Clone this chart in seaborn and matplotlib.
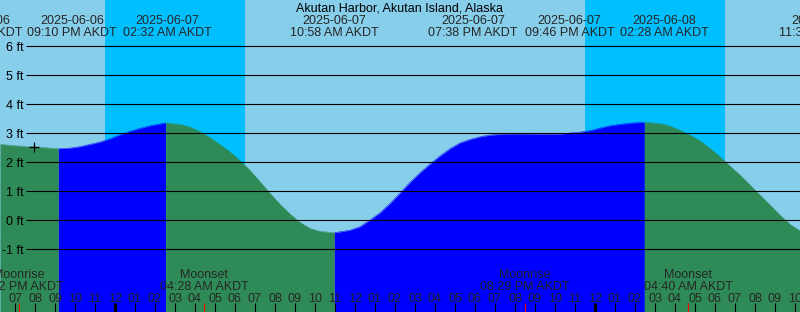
import numpy as np
import pandas as pd
import matplotlib
matplotlib.use("Agg")
import matplotlib.pyplot as plt
import matplotlib.transforms as mtransforms
import seaborn as sns

# ---------------- data ----------------
title = "Akutan Harbor, Akutan Island, Alaska"

# tide curve: hours relative to 2025-06-07 00:00 AKDT, height in ft
tide_hours = [-5.75, -4.75, -3.75, -2.833, -2.25, -1.75, -1.25, -0.75, -0.25, 0.25,
              0.75, 1.25, 1.75, 2.533, 3.25, 3.75, 4.25, 4.75, 5.25, 5.75,
              6.25, 6.75, 7.25, 7.75, 8.25, 8.75, 9.25, 9.75, 10.25, 10.967,
              11.75, 12.25, 12.75, 13.25, 13.75, 14.25, 14.75, 15.25, 15.75, 16.25,
              16.75, 17.25, 17.75, 18.25, 18.75, 19.633, 20.25, 21.25, 21.767, 22.25,
              22.75, 23.25, 23.75, 24.25, 24.75, 25.25, 25.75, 26.467, 27.25, 27.75,
              28.25, 28.75, 29.25, 29.75, 30.25, 30.75, 31.25, 31.75, 32.25, 32.75,
              33.25, 33.75, 34.25]
tide_ft = [2.62, 2.56, 2.52, 2.47, 2.49, 2.54, 2.62, 2.70, 2.81, 2.95,
           3.07, 3.17, 3.26, 3.36, 3.31, 3.22, 3.06, 2.85, 2.61, 2.36,
           2.06, 1.72, 1.33, 0.93, 0.55, 0.22, -0.07, -0.28, -0.38, -0.43,
           -0.34, -0.22, 0.01, 0.26, 0.58, 0.94, 1.31, 1.64, 1.94, 2.22,
           2.47, 2.67, 2.79, 2.88, 2.94, 2.98, 2.98, 2.975, 2.97, 2.98,
           3.01, 3.04, 3.09, 3.18, 3.26, 3.31, 3.35, 3.38, 3.34, 3.25,
           3.11, 2.94, 2.74, 2.48, 2.19, 1.87, 1.56, 1.22, 0.87, 0.53,
           0.18, -0.14, -0.36]

# flood / ebb phases (turning times, hours)
phase_breaks = [-2.833, 2.533, 10.967, 26.467]
phase_kinds = ["ebb", "flood", "ebb", "flood", "ebb"]

# night (sunset -> sunrise), hours
sunset_hours = [-0.5, 23.5]
sunrise_hours = [6.5, 30.5]

# tide event labels along the top
event_dates = ["2025-06-06", "2025-06-06", "2025-06-07", "2025-06-07",
               "2025-06-07", "2025-06-07", "2025-06-08", "2025-06-08"]
event_times = ["03:51 PM AKDT", "09:10 PM AKDT", "02:32 AM AKDT", "10:58 AM AKDT",
               "07:38 PM AKDT", "09:46 PM AKDT", "02:28 AM AKDT", "11:34 AM AKDT"]

# moon events
moon_hours = [-4.8, 4.467, 20.483, 28.667]
moon_kinds = ["Moonrise", "Moonset", "Moonrise", "Moonset"]
moon_times = ["07:12 PM AKDT", "04:28 AM AKDT", "08:29 PM AKDT", "04:40 AM AKDT"]

plus_mark = (-4.035, 2.52)
ft_ticks = [-1, 0, 1, 2, 3, 4, 5, 6]

# ---------------- layout ----------------
label_x = [-6.85, -2.15, 2.6, 10.95, 17.9, 22.725, 27.45, 35.4]  # de-overlapped label centres
W, H = 800, 312
XMIN, XMAX = -5.75, 34.25
YMIN, YMAX = -3.162, 7.597
FONT = ["Liberation Sans", "DejaVu Sans"]
FS = 9

sns.set_theme(style="white")
plt.rcParams["font.family"] = FONT

fig = plt.figure(figsize=(W / 100, H / 100), dpi=100)
ax = fig.add_axes([0, 0, 1, 1])
ax.set_xlim(XMIN, XMAX)
ax.set_ylim(YMIN, YMAX)
ax.set_axis_off()

day_c, night_c = "#87CEEB", "#00BFFF"
flood_c, ebb_c = "#0000FF", "#2E8B57"
ax.axvspan(XMIN, XMAX, color=day_c, lw=0, zorder=0)
for s, r in zip(sunset_hours, sunrise_hours):
    ax.axvspan(s, r, color=night_c, lw=0, zorder=0.5)

t = np.array(tide_hours)
h = np.array(tide_ft)
edges = [XMIN - 1] + phase_breaks + [XMAX + 1]
rows = []
for i, kind in enumerate(phase_kinds):
    m = (t >= edges[i] - 1e-9) & (t <= edges[i + 1] + 1e-9)
    col = flood_c if kind == "flood" else ebb_c
    ax.fill_between(t[m], YMIN, h[m], color=col, lw=0, zorder=1)
    for tt, hh in zip(t[m], h[m]):
        rows.append({"hour": tt, "ft": hh, "seg": f"{kind}{i}"})
df = pd.DataFrame(rows)
pal = {f"{k}{i}": (flood_c if k == "flood" else ebb_c) for i, k in enumerate(phase_kinds)}
sns.lineplot(data=df, x="hour", y="ft", hue="seg", palette=pal, lw=0.35,
             legend=False, ax=ax, zorder=1.5, sort=False, estimator=None)

# grid lines
px_to_x = lambda px: XMIN + px / W * (XMAX - XMIN)
ax.hlines(ft_ticks, px_to_x(26), XMAX, colors="black", lw=0.8, zorder=2)
blend_ya = mtransforms.blended_transform_factory(ax.transAxes, ax.transData)
for v in ft_ticks:
    ax.text(24 / W, v - 4.5 / 29, f"{v} ft", transform=blend_ya, ha="right",
            va="baseline", fontsize=FS, color="black", zorder=3)

# marker
ax.plot([plus_mark[0]], [plus_mark[1]], marker="+", ms=7, mew=0.9, color="black", zorder=3)

blend = mtransforms.blended_transform_factory(ax.transData, ax.transAxes)
fy = lambda px: 1 - px / H

ax.text(0.5, fy(11.5), title, transform=ax.transAxes, ha="center", va="baseline",
        fontsize=FS, color="black", zorder=3)
for x, d, tm in zip(label_x, event_dates, event_times):
    ax.text(x, fy(24.5), d, transform=blend, ha="center", va="baseline", fontsize=FS, zorder=3)
    ax.text(x, fy(36.5), tm, transform=blend, ha="center", va="baseline", fontsize=FS, zorder=3)

for x, k, tm in zip(moon_hours, moon_kinds, moon_times):
    ax.text(x, fy(278.5), k, transform=blend, ha="center", va="baseline", fontsize=FS, zorder=3)
    ax.text(x, fy(290.3), tm, transform=blend, ha="center", va="baseline", fontsize=FS, zorder=3)

# hour ticks
for hr in range(int(np.ceil(XMIN)), int(np.floor(XMAX)) + 1):
    lab = (hr % 24) % 12 or 12
    ax.text(hr, fy(301.8), f"{lab:02d}", transform=blend, ha="center", va="baseline",
            fontsize=FS, zorder=3)
    lw = 2.2 if hr % 24 == 0 else 0.8
    ax.plot([hr, hr], [fy(303), 0], transform=blend, color="black", lw=lw,
            solid_capstyle="butt", zorder=3)
for x in moon_hours:
    ax.plot([x, x], [fy(303), 0], transform=blend, color="red", lw=0.8,
            solid_capstyle="butt", zorder=3.5)

fig.savefig("out.png", dpi=100)
